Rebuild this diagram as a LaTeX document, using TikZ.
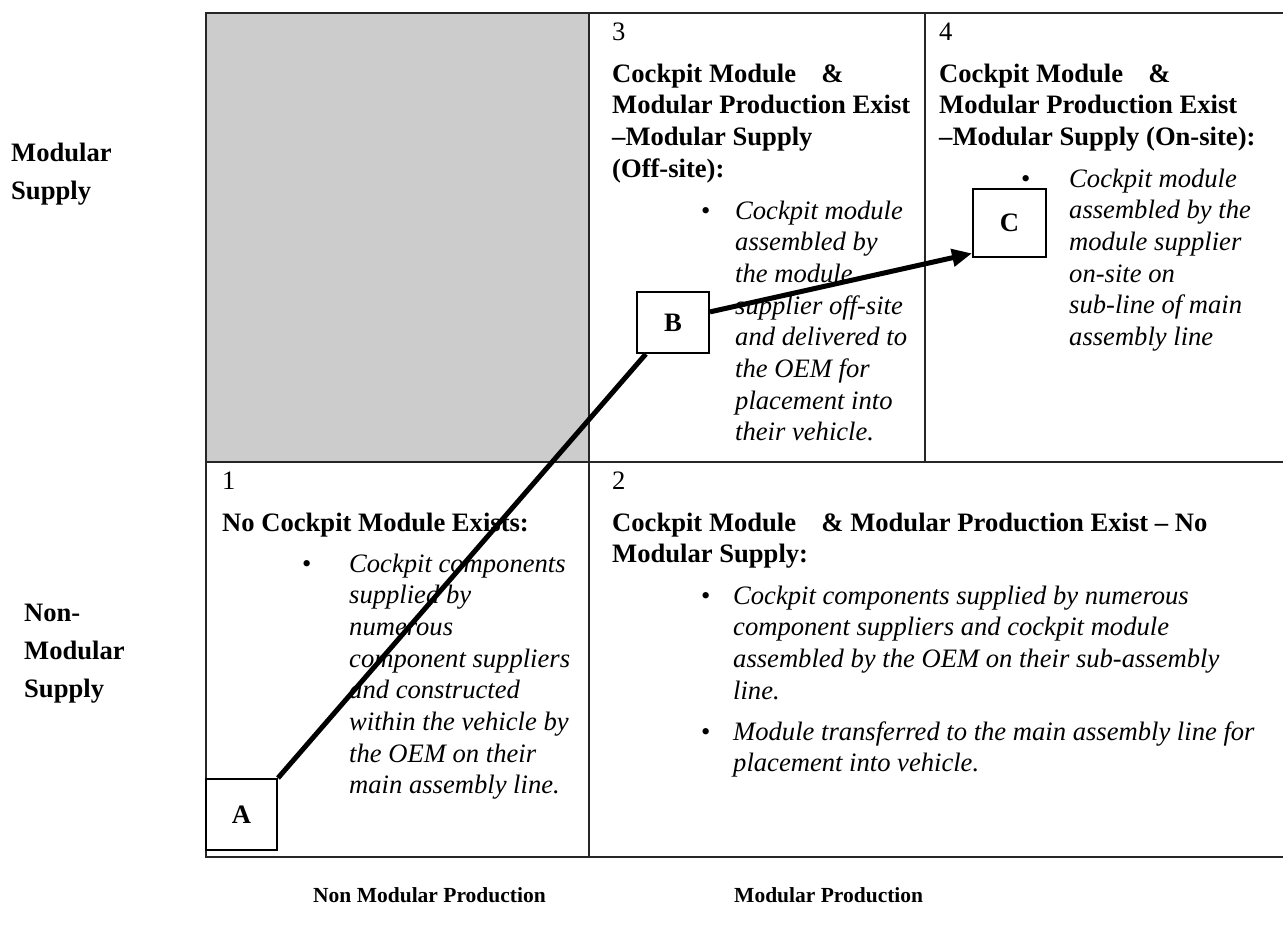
\documentclass[tikz,border=0pt]{standalone}
\usepackage{fontspec}
\setmainfont{Liberation Serif}
\usetikzlibrary{arrows.meta,calc}
\tikzstyle{cellnum} = [anchor=base west, inner sep=0pt, font=\fontsize{26.6}{31.7}\selectfont]
\tikzstyle{head} = [anchor=base west, inner sep=0pt, align=left, font=\fontsize{26.6}{31.7}\selectfont\bfseries]
\tikzstyle{item} = [anchor=base west, inner sep=0pt, align=left, font=\fontsize{26.6}{31.7}\selectfont\itshape]
\tikzstyle{dot} = [anchor=base west, inner sep=0pt, font=\fontsize{26.6}{31.7}\selectfont]
\tikzstyle{side} = [anchor=base west, inner sep=0pt, align=left, font=\fontsize{26.6}{38}\selectfont\bfseries]
\tikzstyle{axis} = [anchor=base west, inner sep=0pt, font=\fontsize{21.5}{26}\selectfont\bfseries]
\tikzstyle{stage} = [rectangle, draw=black, line width=2pt, fill=white, inner sep=0pt, font=\fontsize{26.6}{31.7}\selectfont\bfseries]
\tikzstyle{grid} = [line width=1.5pt, draw=black!85]
\tikzstyle{path} = [line width=5pt]
\tikzstyle{arrow} = [line width=5pt, -{Triangle[length=20pt,width=17pt]}]

\begin{document}
\begin{tikzpicture}[x=1pt, y=-1pt]
  \useasboundingbox (0,0) rectangle (1283,929);
  % table
  \fill[black!20] (206,13) rectangle (589,462);
  \draw[grid] (1283,13) -- (206,13) -- (206,857) -- (1283,857);
  \draw[grid] (206,462) -- (1283,462);
  \draw[grid] (589,13) -- (589,857);
  \draw[grid] (925,13) -- (925,462);
  % side and bottom labels (multi-line nodes sit on their last baseline)
  \node (mod)[side] at (11,199) {Modular\\Supply};
  \node (nonmod)[side] at (24,697) {Non-\\Modular\\Supply};
  \node (nonprod)[axis] at (313,902) {Non Modular Production};
  \node (prod)[axis] at (734,902) {Modular Production};
  % cell 3
  \node (n3)[cellnum] at (612,40) {3};
  \node (h3)[head] at (612,177.1) {Cockpit Module\hspace{0.95em}\&\\Modular Production Exist\\--Modular Supply\\(Off-site):};
  \node (d3)[dot] at (701,219) {\textbullet};
  \node (t3)[item] at (735,440.9) {Cockpit module\\assembled by\\the module\\supplier off-site\\and delivered to\\the OEM for\\placement into\\their vehicle.};
  % cell 4
  \node (n4)[cellnum] at (939,40) {4};
  \node (h4)[head] at (939,145.4) {Cockpit Module\hspace{0.95em}\&\\Modular Production Exist\\--Modular Supply (On-site):};
  \node (d4)[dot] at (1021,187) {\textbullet};
  \node (t4)[item] at (1069,345.5) {Cockpit module\\assembled by the\\module supplier\\on-site on\\sub-line of main\\assembly line};
  % cell 1
  \node (n1)[cellnum] at (222,489) {1};
  \node (h1)[head] at (222,531) {No Cockpit Module Exists:};
  \node (d1)[dot] at (302,572) {\textbullet};
  \node (t1)[item] at (349,793.9) {Cockpit components\\supplied by\\numerous\\component suppliers\\and constructed\\within the vehicle by\\the OEM on their\\main assembly line.};
  % cell 2
  \node (n2)[cellnum] at (612,489) {2};
  \node (h2)[head] at (612,562.7) {Cockpit Module\hspace{0.95em}\& Modular Production Exist -- No\\Modular Supply:};
  \node (d2a)[dot] at (701,604) {\textbullet};
  \node (t2a)[item] at (733,699.1) {Cockpit components supplied by numerous\\component suppliers and cockpit module\\assembled by the OEM on their sub-assembly\\line.};
  \node (d2b)[dot] at (701,740) {\textbullet};
  \node (t2b)[item] at (733,771.7) {Module transferred to the main assembly line for\\placement into vehicle.};
  % stages
  \node (A)[stage, minimum width=71pt, minimum height=71pt] at (241.5,814.5) {A};
  \node (B)[stage, minimum width=72pt, minimum height=61pt] at (673,322.5) {B};
  \node (C)[stage, minimum width=73pt, minimum height=68pt] at (1009.5,223) {C};
  \draw[path] (A.north east) -- (B);
  \draw[arrow] (B.16) -- (C.219);
\end{tikzpicture}
\end{document}
